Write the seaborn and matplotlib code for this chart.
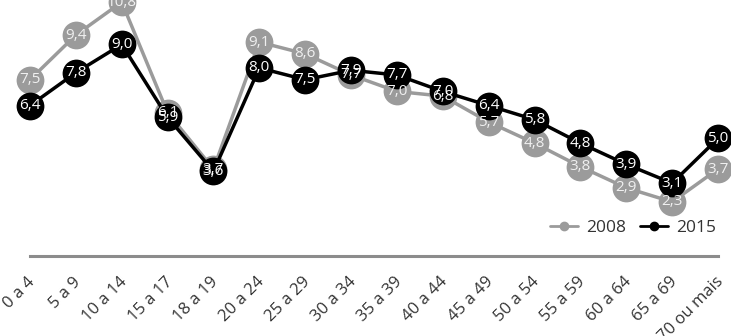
import matplotlib
matplotlib.use("Agg")
import matplotlib.pyplot as plt
import matplotlib.transforms as mtransforms
import seaborn as sns
import pandas as pd
from matplotlib.lines import Line2D

categories = ["0 a 4", "5 a 9", "10 a 14", "15 a 17", "18 a 19", "20 a 24",
              "25 a 29", "30 a 34", "35 a 39", "40 a 44", "45 a 49", "50 a 54",
              "55 a 59", "60 a 64", "65 a 69", "70 ou mais"]
values_2008 = [7.5, 9.4, 10.8, 6.1, 3.7, 9.1, 8.6, 7.7, 7.0, 6.8, 5.7, 4.8, 3.8, 2.9, 2.3, 3.7]
values_2015 = [6.4, 7.8, 9.0, 5.9, 3.6, 8.0, 7.5, 7.9, 7.7, 7.0, 6.4, 5.8, 4.8, 3.9, 3.1, 5.0]
series_names = ["2008", "2015"]
colors = {"2008": "#9b9b9b", "2015": "#000000"}
label_colors = {"2008": "#f0f0f0", "2015": "#ffffff"}

sns.set_theme(style="white")
plt.rcParams["font.family"] = ["Open Sans", "DejaVu Sans"]

rows = []
for name, vals in zip(series_names, [values_2008, values_2015]):
    for i, v in enumerate(vals):
        rows.append({"pos": i, "cat": categories[i], "value": v, "ano": name})
df = pd.DataFrame(rows)

fig = plt.figure(figsize=(7.31, 3.36), dpi=100)
ax = fig.add_axes([30 / 731, 1 - 256 / 336, (718 - 30) / 731, 256 / 336])

for name in series_names:
    sub = df[df["ano"] == name]
    sns.lineplot(data=sub, x="pos", y="value", ax=ax, color=colors[name],
                 linewidth=2.5, marker="o", markersize=20,
                 markeredgecolor=colors[name], markeredgewidth=0,
                 clip_on=False, legend=False, zorder=3 if name == "2008" else 4)

for name in series_names:
    sub = df[df["ano"] == name]
    for _, r in sub.iterrows():
        ax.text(r["pos"], r["value"], f"{r['value']:.1f}".replace(".", ","),
                ha="center", va="center", fontsize=11, color=label_colors[name],
                zorder=6, clip_on=False)

ax.set_xlim(0, len(categories) - 1)
ax.set_ylim(0, 10.89)
ax.set_xticks(range(len(categories)))
ax.set_xticklabels(categories, rotation=45, ha="right", va="top",
                   rotation_mode="anchor", fontsize=12, color="#333333")
ax.tick_params(axis="x", length=0, pad=13)
offset = mtransforms.ScaledTranslation(-3 / 100, 0, fig.dpi_scale_trans)
for lbl in ax.get_xticklabels():
    lbl.set_transform(lbl.get_transform() + offset)
ax.set_yticks([])
ax.set_xlabel("")
ax.set_ylabel("")
for s in ["top", "left", "right"]:
    ax.spines[s].set_visible(False)
ax.spines["bottom"].set_color("#8c8c8c")
ax.spines["bottom"].set_linewidth(2.2)

handles = [Line2D([0], [0], color=colors[n], linewidth=2.0, marker="o",
                  markersize=6) for n in series_names]
leg = ax.legend(handles, series_names, loc="center right",
                bbox_to_anchor=(1.008, 28 / 256), ncol=2, frameon=False,
                fontsize=12.5, handlelength=1.6, handletextpad=0.5,
                columnspacing=0.8, borderaxespad=0)
for t in leg.get_texts():
    t.set_color("#333333")

fig.savefig("out.png", dpi=100)
